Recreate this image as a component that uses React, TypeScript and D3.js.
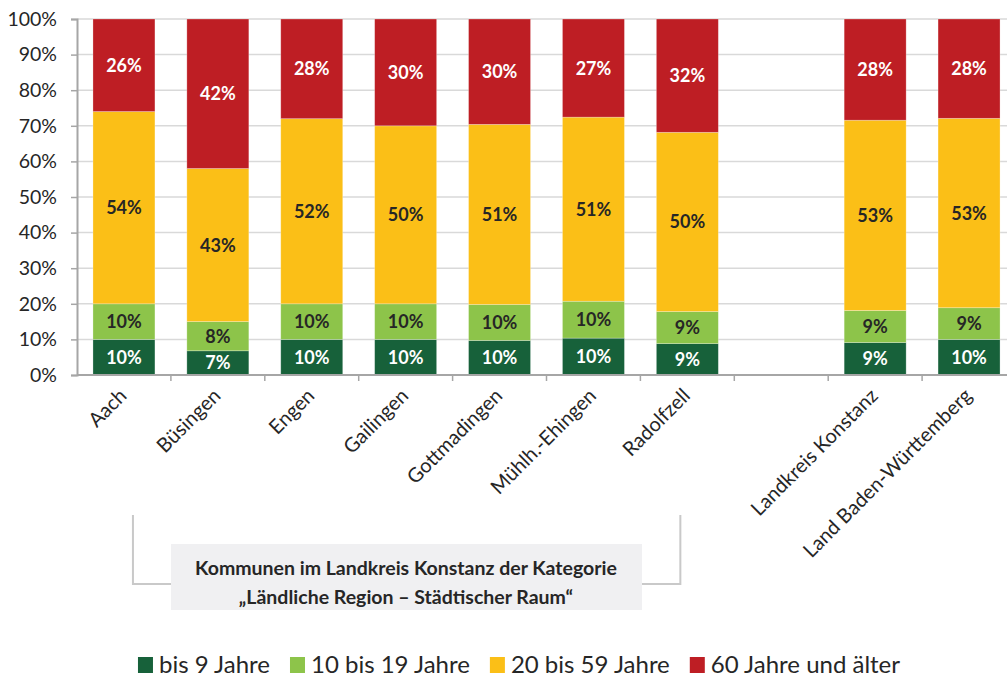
import React, { useEffect, useRef } from "react";
import * as d3 from "d3";

const categories = [
  "Aach",
  "Büsingen",
  "Engen",
  "Gailingen",
  "Gottmadingen",
  "Mühlh.-Ehingen",
  "Radolfzell",
  "",
  "Landkreis Konstanz",
  "Land Baden-Württemberg",
];
const bis9 = [10, 6.8, 10, 10, 9.7, 10.3, 8.8, 0, 9.1, 10];
const bis19 = [10, 8.2, 10, 10, 10.1, 10.3, 9.0, 0, 9.0, 8.9];
const bis59 = [54, 43, 52, 50, 50.6, 51.4, 50.3, 0, 53.4, 53.2];
const ab60 = [26, 42, 28, 30, 29.6, 27.4, 31.8, 0, 28.4, 27.9];

const seriesKeys = ["bis9", "bis19", "bis59", "ab60"];
const seriesNames = ["bis 9 Jahre", "10 bis 19 Jahre", "20 bis 59 Jahre", "60 Jahre und älter"];
const seriesColors = ["#17613a", "#8dc44a", "#fbbf17", "#be1e24"];
const labelColors = ["#ffffff", "#262626", "#262626", "#ffffff"];
const yTicks = [0, 0.1, 0.2, 0.3, 0.4, 0.5, 0.6, 0.7, 0.8, 0.9, 1];
const bracketLines = [
  "Kommunen im Landkreis Konstanz der Kategorie",
  "„Ländliche Region – Städtischer Raum“",
];

const W = 1007;
const H = 677;
const FONT = "Lato, 'Open Sans', sans-serif";

export default function App() {
  const svgRef = useRef<SVGSVGElement>(null);

  useEffect(() => {
    const svg = d3.select(svgRef.current);
    svg.selectAll("*").remove();

    const margin = { top: 19, left: 77, bottom: 375 };
    const rows = categories
      .map((c, i) => ({ cat: c, bis9: bis9[i], bis19: bis19[i], bis59: bis59[i], ab60: ab60[i] }))
      .filter((d) => d.cat !== "");

    const x = d3.scaleBand().domain(categories).range([margin.left, 1016]).paddingInner(0.34).paddingOuter(0.17);
    const y = d3.scaleLinear().domain([0, 1]).range([margin.bottom, margin.top]);

    const stacked = d3.stack<any>().keys(seriesKeys).offset(d3.stackOffsetExpand)(rows);

    // gridlines
    svg
      .append("g")
      .selectAll("line")
      .data(yTicks.slice(1))
      .join("line")
      .attr("x1", margin.left)
      .attr("x2", W)
      .attr("y1", (d) => y(d))
      .attr("y2", (d) => y(d))
      .attr("stroke", "#d9d9d9")
      .attr("stroke-width", 1.5);

    // bars
    svg
      .append("g")
      .selectAll("g")
      .data(stacked)
      .join("g")
      .attr("fill", (_, i) => seriesColors[i])
      .selectAll("rect")
      .data((d) => d)
      .join("rect")
      .attr("x", (d: any) => x(d.data.cat)!)
      .attr("y", (d) => y(d[1]))
      .attr("width", x.bandwidth())
      .attr("height", (d) => y(d[0]) - y(d[1]))
      .attr("stroke", "#ffffff")
      .attr("stroke-opacity", 0.35)
      .attr("stroke-width", 0.75);

    // value labels
    svg
      .append("g")
      .selectAll("g")
      .data(stacked)
      .join("g")
      .attr("fill", (_, i) => labelColors[i])
      .selectAll("text")
      .data((d) => d.map((p) => ({ p, key: d.key })))
      .join("text")
      .attr("x", (d: any) => x(d.p.data.cat)! + x.bandwidth() / 2)
      .attr("y", (d) => (y(d.p[0]) + y(d.p[1])) / 2)
      .attr("dy", "0.36em")
      .attr("text-anchor", "middle")
      .attr("font-family", FONT)
      .attr("font-weight", 700)
      .attr("font-size", 18)
      .text((d: any) => Math.round(d.p.data[d.key]) + "%");

    // y axis
    const yAxis = svg
      .append("g")
      .attr("transform", `translate(${margin.left},0)`)
      .call(d3.axisLeft(y).tickValues(yTicks).tickFormat(d3.format(".0%")).tickSize(6).tickPadding(14));
    yAxis.select(".domain").attr("stroke", "#a6a6a6").attr("stroke-width", 2);
    yAxis.selectAll(".tick line").attr("stroke", "#a6a6a6").attr("stroke-width", 1.5);
    yAxis
      .selectAll(".tick text")
      .attr("font-family", FONT)
      .attr("font-size", 19.5)
      .attr("fill", "#262626");

    // x axis
    const xAxis = svg.append("g").attr("transform", `translate(0,${margin.bottom})`);
    xAxis
      .append("line")
      .attr("x1", margin.left)
      .attr("x2", W)
      .attr("stroke", "#a6a6a6")
      .attr("stroke-width", 2);
    const step = x.step();
    xAxis
      .selectAll("line.tk")
      .data(categories.slice(1))
      .join("line")
      .attr("class", "tk")
      .attr("x1", (d) => x(d)! - (step - x.bandwidth()) / 2)
      .attr("x2", (d) => x(d)! - (step - x.bandwidth()) / 2)
      .attr("y1", 0)
      .attr("y2", 6)
      .attr("stroke", "#a6a6a6")
      .attr("stroke-width", 1.5);
    xAxis
      .selectAll("text")
      .data(categories)
      .join("text")
      .attr("transform", (d) => `translate(${x(d)! + x.bandwidth() / 2 + 4},22) rotate(-45)`)
      .attr("text-anchor", "end")
      .attr("font-family", FONT)
      .attr("font-size", 20)
      .attr("fill", "#262626")
      .text((d) => d);

    // bracket
    const br = svg.append("g");
    const bx0 = x("Aach")! + x.bandwidth() / 2 + 9;
    const bx1 = x("Radolfzell")! + x.bandwidth() / 2 - 7;
    br.append("path")
      .attr("d", `M${bx0},515 V584 H${bx1} V515`)
      .attr("fill", "none")
      .attr("stroke", "#c9c9c9")
      .attr("stroke-width", 2);
    br.append("rect")
      .attr("x", 171)
      .attr("y", 544)
      .attr("width", 471)
      .attr("height", 66)
      .attr("fill", "#f0f0f2");
    br.selectAll("text")
      .data(bracketLines)
      .join("text")
      .attr("x", 406)
      .attr("y", (_, i) => 575 + i * 29)
      .attr("text-anchor", "middle")
      .attr("font-family", FONT)
      .attr("font-weight", 700)
      .attr("font-size", 19.5)
      .attr("fill", "#262626")
      .text((d) => d);

    // legend
    const lg = svg.append("g").attr("transform", "translate(0,665)");
    const items = lg
      .selectAll("g")
      .data(seriesNames)
      .join("g");
    items
      .append("rect")
      .attr("y", -8)
      .attr("width", 15)
      .attr("height", 16)
      .attr("fill", (_, i) => seriesColors[i]);
    items
      .append("text")
      .attr("x", 21)
      .attr("dy", "0.35em")
      .attr("font-family", FONT)
      .attr("font-size", 24)
      .attr("fill", "#262626")
      .text((d) => d);
    const widths: number[] = [];
    items.each(function () {
      const t = d3.select(this).select("text").node() as SVGTextElement;
      widths.push(21 + t.getComputedTextLength());
    });
    const gap = 20;
    const total = d3.sum(widths) + gap * (widths.length - 1);
    let cx = 519 - total / 2;
    items.attr("transform", (_, i) => {
      const t = `translate(${cx},0)`;
      cx += widths[i] + gap;
      return t;
    });
  }, []);

  return (
    <svg
      ref={svgRef}
      width={W}
      height={H}
      style={{ position: "absolute", left: 0, top: 0, background: "#ffffff" }}
    />
  );
}
